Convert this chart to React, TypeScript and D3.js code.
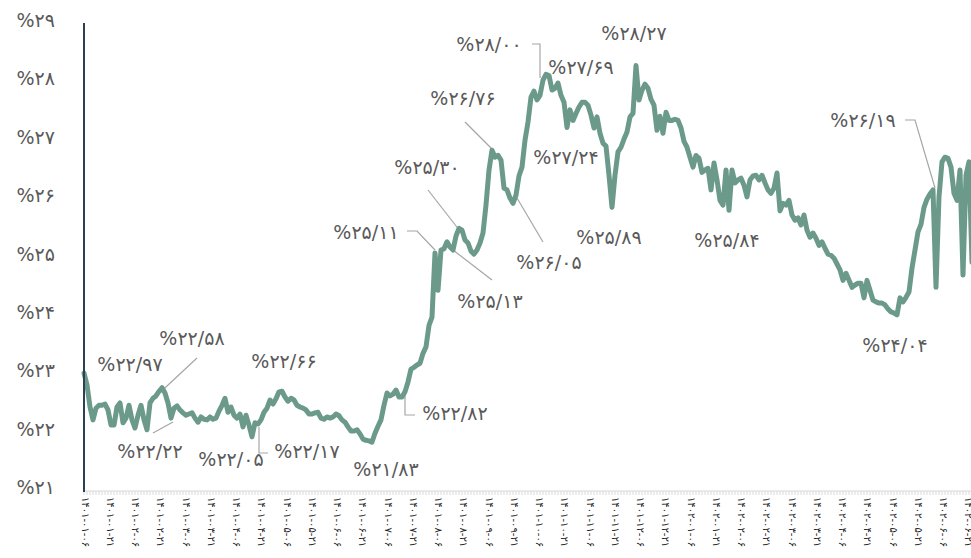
import React from 'react';
import * as d3 from 'd3';

// Series values (one per trading step)
const rate: number[] = [
  22.95, 22.75, 22.37, 22.15, 22.35, 22.40, 22.40, 22.42, 22.32, 22.06,
  22.06, 22.37, 22.44, 22.10, 22.18, 22.40, 22.15, 22.01, 22.23, 22.40,
  22.15, 21.98, 22.44, 22.52, 22.56, 22.64, 22.70, 22.61, 22.44, 22.18,
  22.35, 22.39, 22.32, 22.27, 22.23, 22.25, 22.27, 22.18, 22.11, 22.20,
  22.16, 22.15, 22.20, 22.16, 22.18, 22.30, 22.40, 22.52, 22.28, 22.37,
  22.23, 22.18, 22.25, 22.03, 22.23, 22.06, 21.86, 22.10, 22.08, 22.15,
  22.28, 22.35, 22.49, 22.42, 22.51, 22.63, 22.64, 22.54, 22.47, 22.52,
  22.49, 22.40, 22.37, 22.35, 22.32, 22.25, 22.25, 22.27, 22.28, 22.18,
  22.16, 22.20, 22.18, 22.20, 22.25, 22.22, 22.15, 22.11, 22.03, 21.96,
  21.96, 21.98, 21.91, 21.82, 21.80, 21.79, 21.77, 21.92, 22.04, 22.15,
  22.40, 22.61, 22.56, 22.59, 22.66, 22.54, 22.54, 22.63, 22.80, 23.02,
  23.05, 23.09, 23.12, 23.29, 23.40, 23.77, 23.91, 25.01, 24.37, 25.06,
  25.08, 25.20, 25.11, 25.06, 25.30, 25.43, 25.40, 25.23, 25.18, 25.04,
  24.99, 25.06, 25.18, 25.35, 25.83, 26.43, 26.77, 26.65, 26.68, 26.60,
  26.12, 26.09, 25.95, 25.86, 26.00, 26.33, 26.48, 26.94, 27.25, 27.68,
  27.78, 27.63, 27.71, 27.97, 28.07, 28.05, 27.80, 27.83, 27.92, 27.71,
  27.59, 27.16, 27.46, 27.28, 27.40, 27.51, 27.59, 27.59, 27.54, 27.37,
  27.15, 27.34, 27.06, 26.89, 26.84, 26.34, 25.79, 26.34, 26.74, 26.82,
  26.96, 27.08, 27.34, 27.40, 28.22, 27.63, 27.80, 27.90, 27.83, 27.64,
  27.54, 27.11, 27.35, 27.06, 27.42, 27.28, 27.28, 27.30, 27.28, 27.15,
  26.92, 26.82, 26.65, 26.48, 26.68, 26.63, 26.39, 26.43, 26.46, 26.09,
  26.55, 26.26, 25.91, 25.83, 26.43, 25.74, 26.43, 26.21, 26.26, 26.29,
  26.17, 25.97, 26.26, 26.33, 26.34, 26.26, 26.34, 26.21, 26.09, 26.03,
  26.12, 26.38, 25.73, 25.86, 25.83, 25.91, 25.66, 25.57, 25.61, 25.49,
  25.66, 25.40, 25.28, 25.35, 25.26, 25.14, 25.20, 25.09, 24.99, 24.97,
  24.92, 24.82, 24.72, 24.54, 24.66, 24.54, 24.42, 24.46, 24.49, 24.49,
  24.24, 24.54, 24.37, 24.20, 24.17, 24.15, 24.15, 24.12, 24.05, 24.00,
  23.98, 23.95, 24.24, 24.17, 24.25, 24.34, 24.75, 25.06, 25.37, 25.50,
  25.79, 25.93, 26.02, 26.09, 24.42, 25.97, 26.57, 26.65, 26.63, 26.48,
  26.03, 25.91, 26.43, 24.63, 26.34, 26.57, 24.85,
];

// Category (date) tick labels
const xLabels: string[] = [
  '۱۴۰۱-۰۱-۰۶', '۱۴۰۱-۰۱-۲۱', '۱۴۰۱-۰۲-۰۶', '۱۴۰۱-۰۲-۲۱', '۱۴۰۱-۰۳-۰۶', '۱۴۰۱-۰۳-۲۱',
  '۱۴۰۱-۰۴-۰۶', '۱۴۰۱-۰۴-۲۱', '۱۴۰۱-۰۵-۰۶', '۱۴۰۱-۰۵-۲۱', '۱۴۰۱-۰۶-۰۶', '۱۴۰۱-۰۶-۲۱',
  '۱۴۰۱-۰۷-۰۶', '۱۴۰۱-۰۷-۲۱', '۱۴۰۱-۰۸-۰۶', '۱۴۰۱-۰۸-۲۱', '۱۴۰۱-۰۹-۰۶', '۱۴۰۱-۰۹-۲۱',
  '۱۴۰۱-۱۰-۰۶', '۱۴۰۱-۱۰-۲۱', '۱۴۰۱-۱۱-۰۶', '۱۴۰۱-۱۱-۲۱', '۱۴۰۱-۱۲-۰۶', '۱۴۰۱-۱۲-۲۱',
  '۱۴۰۲-۰۱-۰۶', '۱۴۰۲-۰۱-۲۱', '۱۴۰۲-۰۲-۰۶', '۱۴۰۲-۰۲-۲۱', '۱۴۰۲-۰۳-۰۶', '۱۴۰۲-۰۳-۲۱',
  '۱۴۰۲-۰۴-۰۶', '۱۴۰۲-۰۴-۲۱', '۱۴۰۲-۰۵-۰۶', '۱۴۰۲-۰۵-۲۱', '۱۴۰۲-۰۶-۰۶', '۱۴۰۲-۰۶-۲۱',
];

// Y tick values
const yTicks: number[] = [21, 22, 23, 24, 25, 26, 27, 28, 29];

// Annotation labels
const annotationTexts: string[] = [
  '%۲۲/۹۷', '%۲۲/۵۸', '%۲۲/۲۲', '%۲۲/۰۵', '%۲۲/۱۷', '%۲۲/۶۶', '%۲۱/۸۳',
  '%۲۲/۸۲', '%۲۵/۱۱', '%۲۵/۳۰', '%۲۵/۱۳', '%۲۶/۰۵', '%۲۶/۷۶', '%۲۸/۰۰',
  '%۲۷/۶۹', '%۲۸/۲۷', '%۲۷/۲۴', '%۲۵/۸۹', '%۲۵/۸۴', '%۲۴/۰۴', '%۲۶/۱۹',
];

// Layout of annotation labels (pixel positions) and their leader lines
const annotationLayout: { cx: number; cy: number; leader?: [number, number][] }[] = [
  { cx: 130, cy: 364 },
  { cx: 192, cy: 338, leader: [[197, 358], [152, 400]] },
  { cx: 150, cy: 451, leader: [[153, 433], [173, 422]] },
  { cx: 231, cy: 459 },
  { cx: 307, cy: 451, leader: [[268, 453], [259, 453], [259, 427]] },
  { cx: 284, cy: 361 },
  { cx: 386, cy: 469 },
  { cx: 455, cy: 413, leader: [[415, 415], [405, 415], [405, 390]] },
  { cx: 366, cy: 232, leader: [[407, 231], [417, 231], [435, 250]] },
  { cx: 427, cy: 167, leader: [[428, 190], [467, 240]] },
  { cx: 490, cy: 301, leader: [[453, 250], [492, 280]] },
  { cx: 549, cy: 262, leader: [[517, 198], [543, 242]] },
  { cx: 463, cy: 98, leader: [[465, 122], [493, 150]] },
  { cx: 489, cy: 44, leader: [[532, 44], [540, 44], [540, 78]] },
  { cx: 581, cy: 67 },
  { cx: 634, cy: 33 },
  { cx: 566, cy: 157 },
  { cx: 609, cy: 237 },
  { cx: 727, cy: 240 },
  { cx: 895, cy: 345 },
  { cx: 863, cy: 120, leader: [[905, 120], [915, 120], [935, 188]] },
];

const fa = (s: string) => s.replace(/\d/g, (d) => '۰۱۲۳۴۵۶۷۸۹'[+d]);

export default function App() {
  const W = 971;
  const H = 558;
  const x = d3.scaleLinear().domain([0, rate.length - 1]).range([84, 84 + 3 * (rate.length - 1)]);
  const y = d3.scaleLinear().domain([21, 29]).range([487, 20]);
  const xl = d3.scalePoint<string>().domain(xLabels).range([85, 85 + 25.25 * (xLabels.length - 1)]);
  const line = d3.line<number>().x((_, i) => x(i)).y((d) => y(d));
  const leaderLine = d3.line<[number, number]>();
  const font = '"DejaVu Sans", sans-serif';

  return (
    <svg width={W} height={H} style={{ position: 'absolute', left: 0, top: 0, background: '#fff' }}>
      {/* x axis baseline + minor ticks */}
      <line x1={84} x2={W} y1={491} y2={491} stroke="#d9d9d9" strokeWidth={1} />
      {rate.map((_, i) => (
        <line key={'t' + i} x1={x(i)} x2={x(i)} y1={491} y2={495} stroke="#d9d9d9" strokeWidth={1} />
      ))}
      {/* y tick labels */}
      {yTicks.map((t) => (
        <text key={'y' + t} x={55} y={y(t)} textAnchor="end" dominantBaseline="central"
          fontFamily={font} fontSize={19} fill="#595959">{'%' + fa(String(t))}</text>
      ))}
      {/* x tick labels */}
      {xLabels.map((l) => (
        <text key={l} transform={`translate(${xl(l)},497) rotate(90)`} textAnchor="start"
          dominantBaseline="central" fontFamily={font} fontSize={10} fill="#262626">{l}</text>
      ))}
      {/* leader lines */}
      {annotationLayout.map((a, i) =>
        a.leader ? (
          <path key={'l' + i} d={leaderLine(a.leader) || ''} fill="none" stroke="#a6a6a6" strokeWidth={1.2} />
        ) : null
      )}
      {/* series line */}
      <path d={line(rate) || ''} fill="none" stroke="#6b9a8b" strokeWidth={5} strokeLinejoin="round" strokeLinecap="round" />
      {/* vertical axis */}
      <line x1={84} x2={84} y1={23} y2={492} stroke="#2b3f55" strokeWidth={2} />
      {/* annotations */}
      {annotationTexts.map((t, i) => (
        <text key={'a' + i} x={annotationLayout[i].cx} y={annotationLayout[i].cy} textAnchor="middle"
          dominantBaseline="central" fontFamily={font} fontSize={19} fill="#595959">{t}</text>
      ))}
    </svg>
  );
}
